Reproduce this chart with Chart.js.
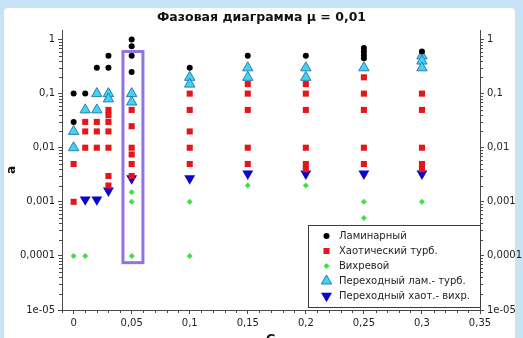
<!DOCTYPE html>
<html>
<head>
<meta charset="utf-8">
<script src="https://cdn.jsdelivr.net/npm/chart.js@4"></script>
<style>
  html, body { margin: 0; padding: 0; background: #c8e3f6; }
  canvas { display: block; }
</style>
</head>
<body>
<canvas id="phase" width="523" height="338"></canvas>
<script>
// Phase diagram points: [G, a]
const laminar = [
  [0, 0.1], [0, 0.03], [0.01, 0.1], [0.02, 0.3], [0.03, 0.5], [0.03, 0.3],
  [0.05, 1], [0.05, 0.75], [0.05, 0.5], [0.05, 0.25], [0.1, 0.3], [0.15, 0.5],
  [0.2, 0.5], [0.25, 0.7], [0.25, 0.6], [0.25, 0.52], [0.25, 0.45], [0.3, 0.6]
];
const chaoticTurb = [
  [0, 0.005], [0, 0.001],
  [0.01, 0.03], [0.01, 0.02], [0.01, 0.01],
  [0.02, 0.03], [0.02, 0.02], [0.02, 0.01],
  [0.03, 0.05], [0.03, 0.04], [0.03, 0.03], [0.03, 0.02], [0.03, 0.01], [0.03, 0.003], [0.03, 0.002],
  [0.05, 0.05], [0.05, 0.025], [0.05, 0.01], [0.05, 0.0075], [0.05, 0.005], [0.05, 0.003],
  [0.1, 0.1], [0.1, 0.05], [0.1, 0.02], [0.1, 0.01], [0.1, 0.005],
  [0.15, 0.15], [0.15, 0.1], [0.15, 0.05], [0.15, 0.01], [0.15, 0.005],
  [0.2, 0.15], [0.2, 0.1], [0.2, 0.05], [0.2, 0.01], [0.2, 0.005], [0.2, 0.004],
  [0.25, 0.2], [0.25, 0.1], [0.25, 0.05], [0.25, 0.01], [0.25, 0.005],
  [0.3, 0.1], [0.3, 0.05], [0.3, 0.01], [0.3, 0.005], [0.3, 0.004]
];
const vortex = [
  [0, 0.0001], [0.01, 0.0001], [0.05, 0.0015], [0.05, 0.001], [0.05, 0.0001],
  [0.1, 0.001], [0.1, 0.0001], [0.15, 0.002], [0.2, 0.002],
  [0.25, 0.001], [0.25, 0.0005], [0.3, 0.001]
];
const transLamTurb = [
  [0, 0.02], [0, 0.01], [0.01, 0.05], [0.02, 0.1], [0.02, 0.05], [0.03, 0.1], [0.03, 0.08],
  [0.05, 0.1], [0.05, 0.07], [0.1, 0.2], [0.1, 0.15], [0.15, 0.3], [0.15, 0.2],
  [0.2, 0.3], [0.2, 0.2], [0.25, 0.3], [0.3, 0.5], [0.3, 0.4], [0.3, 0.3]
];
const transChaotVortex = [
  [0.01, 0.0011], [0.02, 0.0011], [0.03, 0.0016], [0.05, 0.0027], [0.1, 0.0027],
  [0.15, 0.0033], [0.2, 0.0033], [0.25, 0.0033], [0.3, 0.0033]
];

const seriesNames = ['Ламинарный', 'Хаотический турб.', 'Вихревой', 'Переходный лам.- турб.', 'Переходный хаот.- вихр.'];

const xTickValues = [0, 0.05, 0.1, 0.15, 0.2, 0.25, 0.3, 0.35];
const xTickLabels = ['0', '0,05', '0,1', '0,15', '0,2', '0,25', '0,3', '0,35'];
const yTickValues = [1e-5, 1e-4, 1e-3, 1e-2, 1e-1, 1];
const yTickLabels = ['1e-05', '0,0001', '0,001', '0,01', '0,1', '1'];

// Highlighted column around G = 0,05 (data coordinates)
const highlight = { xMin: 0.0425, xMax: 0.0597, yMin: 7.5e-5, yMax: 0.6 };

const FONT = 'DejaVu Sans';
Chart.defaults.font.family = FONT;

const toPts = arr => arr.map(([x, y]) => ({ x, y }));

const AXIS_COLOR = '#4a4a4a';
const TEXT_COLOR = '#1e1e1e';

// Light-blue window frame with the white panel
const framePlugin = {
  id: 'frame',
  beforeDraw(chart) {
    const ctx = chart.ctx;
    ctx.save();
    ctx.fillStyle = '#c8e3f6';
    ctx.fillRect(0, 0, chart.width, chart.height);
    ctx.fillStyle = '#ffffff';
    ctx.beginPath();
    ctx.roundRect(4, 8, chart.width - 4 - 8, chart.height - 8 + 6, 4);
    ctx.fill();
    ctx.restore();
  }
};

// Minor ticks on the axes
const minorTicksPlugin = {
  id: 'minorTicks',
  afterDraw(chart) {
    const ctx = chart.ctx;
    const { x, y, y2 } = chart.scales;
    const area = chart.chartArea;
    ctx.save();
    ctx.strokeStyle = AXIS_COLOR;
    ctx.lineWidth = 1;
    ctx.beginPath();
    for (let i = -1; i <= 35; i++) {
      if (i % 5 === 0) continue;
      const px = Math.round(x.getPixelForValue(i / 100)) + 0.5;
      ctx.moveTo(px, area.bottom);
      ctx.lineTo(px, area.bottom + 3);
    }
    for (let e = -5; e <= 0; e++) {
      for (let m = 2; m <= 9; m++) {
        const v = m * Math.pow(10, e);
        if (v > y.max) continue;
        const py = Math.round(y.getPixelForValue(v)) + 0.5;
        ctx.moveTo(area.left, py);
        ctx.lineTo(area.left - 3, py);
        const py2 = Math.round(y2.getPixelForValue(v)) + 0.5;
        ctx.moveTo(area.right, py2);
        ctx.lineTo(area.right + 3, py2);
      }
    }
    ctx.stroke();
    ctx.restore();
  }
};

// Highlight frame
const highlightPlugin = {
  id: 'highlight',
  afterDatasetsDraw(chart) {
    const ctx = chart.ctx;
    const { x, y } = chart.scales;
    const l = x.getPixelForValue(highlight.xMin);
    const r = x.getPixelForValue(highlight.xMax);
    const t = y.getPixelForValue(highlight.yMax);
    const b = y.getPixelForValue(highlight.yMin);
    ctx.save();
    ctx.strokeStyle = '#9273e2';
    ctx.lineWidth = 3;
    ctx.strokeRect(l, t, r - l, b - t);
    ctx.restore();
  }
};

function drawMarker(ctx, ds, cx, cy) {
  const opts = {
    pointStyle: ds.pointStyle,
    radius: ds.pointRadius,
    rotation: ds.pointRotation || 0,
    borderWidth: ds.pointBorderWidth || 0
  };
  ctx.fillStyle = ds.pointBackgroundColor;
  ctx.strokeStyle = ds.pointBorderColor;
  ctx.lineWidth = opts.borderWidth;
  Chart.helpers.drawPoint(ctx, opts, cx, cy);
}

// Legend box inside the plot area, bottom right
const insideLegendPlugin = {
  id: 'insideLegend',
  afterDraw(chart) {
    const ctx = chart.ctx;
    const area = chart.chartArea;
    const w = 172, h = 82;
    const right = area.right, bottom = area.bottom - 3;
    const left = right - w, top = bottom - h;
    ctx.save();
    ctx.fillStyle = '#ffffff';
    ctx.fillRect(left, top, w, h);
    ctx.strokeStyle = '#3c3c3c';
    ctx.lineWidth = 1;
    ctx.strokeRect(Math.round(left) + 0.5, Math.round(top) + 0.5, w, h);
    ctx.font = '10px "' + FONT + '"';
    ctx.textBaseline = 'middle';
    ctx.textAlign = 'left';
    chart.data.datasets.forEach((ds, i) => {
      const cy = top + 11 + i * 15;
      drawMarker(ctx, ds, left + 18.5, cy);
      ctx.fillStyle = TEXT_COLOR;
      ctx.fillText(ds.label, left + 31, cy + 0.5);
    });
    ctx.restore();
  }
};

const tickFont = { family: FONT, size: 10 };

new Chart(document.getElementById('phase'), {
  type: 'scatter',
  data: {
    datasets: [
      { label: seriesNames[0], data: toPts(laminar), pointStyle: 'circle', pointRadius: 3,
        pointBackgroundColor: '#000000', pointBorderColor: '#000000', pointBorderWidth: 0 },
      { label: seriesNames[1], data: toPts(chaoticTurb), pointStyle: 'rect', pointRadius: 4.3,
        pointBackgroundColor: '#e3161c', pointBorderColor: '#e3161c', pointBorderWidth: 0 },
      { label: seriesNames[2], data: toPts(vortex), pointStyle: 'rectRot', pointRadius: 3,
        pointBackgroundColor: '#3fe23f', pointBorderColor: '#3fe23f', pointBorderWidth: 0 },
      { label: seriesNames[3], data: toPts(transLamTurb), pointStyle: 'triangle', pointRadius: 6,
        pointBackgroundColor: '#45d2f2', pointBorderColor: '#2b7eae', pointBorderWidth: 1 },
      { label: seriesNames[4], data: toPts(transChaotVortex), pointStyle: 'triangle', pointRadius: 6.3,
        pointRotation: 180, pointBackgroundColor: '#0808cc', pointBorderColor: '#0808cc', pointBorderWidth: 0 }
    ]
  },
  options: {
    responsive: false,
    animation: false,
    devicePixelRatio: 1,
    events: [],
    layout: { padding: 0 },
    plugins: {
      legend: { display: false },
      tooltip: { enabled: false },
      title: {
        display: true,
        text: 'Фазовая диаграмма μ = 0,01',
        color: '#111111',
        font: { family: FONT, size: 12.5, weight: 'bold' },
        padding: { top: 10, bottom: 5 }
      }
    },
    scales: {
      x: {
        type: 'linear',
        position: 'bottom',
        min: -0.01,
        max: 0.35,
        afterBuildTicks: s => { s.ticks = xTickValues.map(v => ({ value: v })); },
        afterFit: s => { s.height = 28; },
        ticks: {
          autoSkip: false, maxRotation: 0, padding: 3, color: TEXT_COLOR, font: tickFont,
          callback: (v, i) => xTickLabels[i]
        },
        grid: { drawOnChartArea: false, drawTicks: true, tickLength: 4, color: AXIS_COLOR },
        border: { display: true, color: AXIS_COLOR, width: 1 },
        title: {
          display: true, text: 'G', color: '#111111',
          font: { family: FONT, size: 12, weight: 'bold' },
          padding: { top: 0, bottom: -9 }
        }
      },
      y: {
        type: 'logarithmic',
        position: 'left',
        min: 1e-5,
        max: 1.5,
        afterBuildTicks: s => { s.ticks = yTickValues.map(v => ({ value: v, major: true })); },
        afterFit: s => { s.width = 62; },
        ticks: {
          autoSkip: false, padding: 3, color: TEXT_COLOR, font: tickFont,
          callback: (v, i) => yTickLabels[i]
        },
        grid: { drawOnChartArea: false, drawTicks: true, tickLength: 4, color: AXIS_COLOR },
        border: { display: true, color: AXIS_COLOR, width: 1 },
        title: {
          display: true, text: 'a', color: '#111111',
          font: { family: FONT, size: 12, weight: 'bold' },
          padding: { top: 5, bottom: 0 }
        }
      },
      y2: {
        type: 'logarithmic',
        position: 'right',
        min: 1e-5,
        max: 1.5,
        afterBuildTicks: s => { s.ticks = yTickValues.map(v => ({ value: v, major: true })); },
        afterFit: s => { s.width = 43; },
        ticks: {
          autoSkip: false, padding: 3, color: TEXT_COLOR, font: tickFont,
          callback: (v, i) => yTickLabels[i]
        },
        grid: { drawOnChartArea: false, drawTicks: true, tickLength: 4, color: AXIS_COLOR },
        border: { display: true, color: AXIS_COLOR, width: 1 }
      }
    }
  },
  plugins: [framePlugin, minorTicksPlugin, highlightPlugin, insideLegendPlugin]
});
</script>
</body>
</html>
